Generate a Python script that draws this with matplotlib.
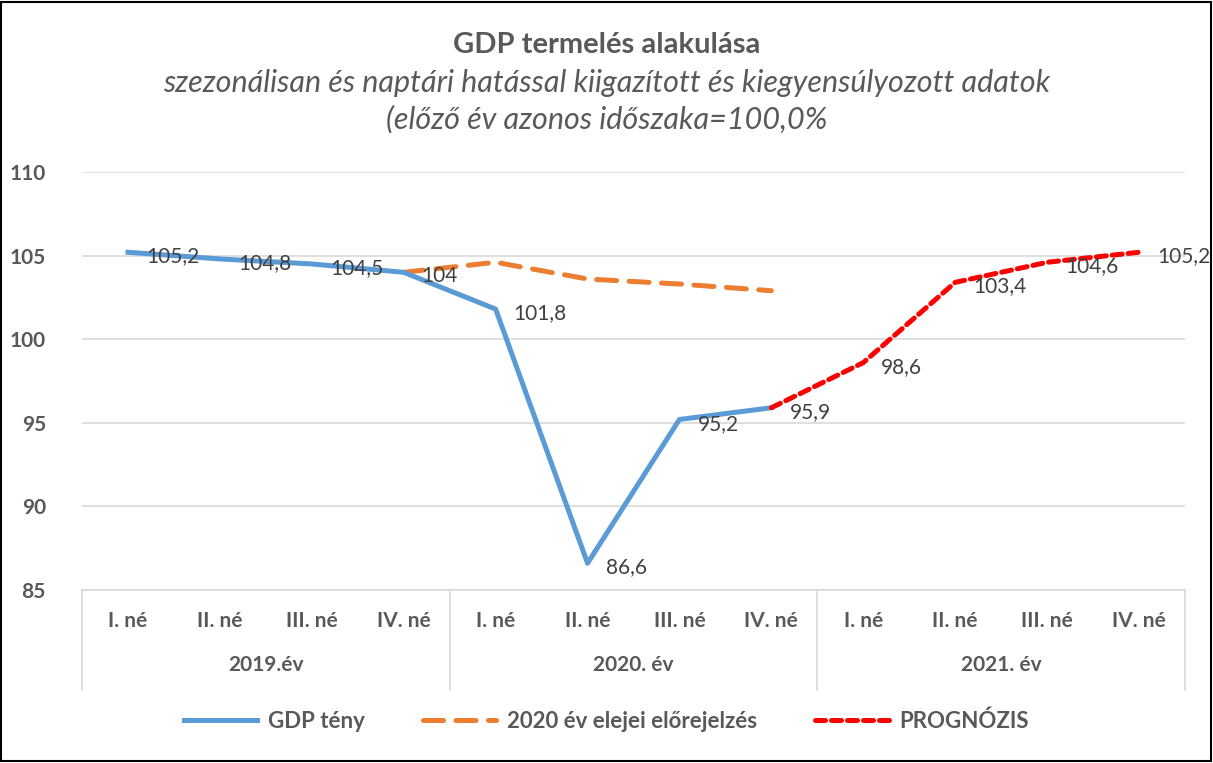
import matplotlib.pyplot as plt
import numpy as np

plt.rcParams['font.family'] = ['Lato', 'DejaVu Sans']

# adatok
quarters = ["I. né", "II. né", "III. né", "IV. né"] * 3
years = ["2019.év", "2020. év", "2021. év"]
gdp_teny = [105.2, 104.8, 104.5, 104.0, 101.8, 86.6, 95.2, 95.9]
elorejelzes = [104.0, 104.6, 103.6, 103.3, 102.9]   # 2019 IV. né - 2020 IV. né
prognozis = [95.9, 98.6, 103.4, 104.6, 105.2]       # 2020 IV. né - 2021 IV. né

gray = "#595959"
x = np.arange(len(quarters))

fig = plt.figure(figsize=(12.13, 7.63), dpi=100)
ax = fig.add_axes([82 / 1213, 173 / 763, 1103 / 1213, 418 / 763])

ax.plot(x[:len(gdp_teny)], gdp_teny, color="#5b9bd5", lw=3.6,
        solid_joinstyle="round", label="GDP tény", zorder=3)
ax.plot(x[3:3 + len(elorejelzes)], elorejelzes, color="#ed7d31", lw=3.6,
        dashes=(4, 2.5), dash_capstyle="round", label="2020 év elejei előrejelzés", zorder=2)
ax.plot(x[7:7 + len(prognozis)], prognozis, color="#ff0000", lw=3.6,
        dashes=(2, 1.2), dash_capstyle="round", label="PROGNÓZIS", zorder=4)

# adatcimkek
def fmt(v):
    s = ("%.1f" % v).replace(".", ",")
    return s[:-2] if s.endswith(",0") else s

for i, v in enumerate(gdp_teny):
    ax.annotate(fmt(v), (x[i], v), xytext=(13, -3), textcoords="offset points",
                ha="left", va="center", fontsize=15, color="#404040", zorder=5)
for i, v in enumerate(prognozis[1:]):
    ax.annotate(fmt(v), (x[8 + i], v), xytext=(13, -3), textcoords="offset points",
                ha="left", va="center", fontsize=15, color="#404040", zorder=5)

ax.set_xlim(-0.5, 11.5)
ax.set_ylim(85, 110)
ax.set_yticks([85, 90, 95, 100, 105, 110])
ax.tick_params(axis="y", length=0, labelsize=15, labelcolor=gray, pad=26)
for t in ax.get_yticklabels():
    t.set_fontweight("bold")
ax.set_xticks([])
ax.grid(axis="y", color="#d9d9d9", lw=1.2)
ax.set_axisbelow(True)
for s in ax.spines.values():
    s.set_visible(False)

# ketszintu kategoriatengely
tr = ax.get_xaxis_transform()
ax.plot([-0.5, 11.5], [0, 0], color="#d9d9d9", lw=1.2, transform=tr, clip_on=False)
for b in [-0.5, 3.5, 7.5, 11.5]:
    ax.plot([b, b], [0, -0.24], color="#d9d9d9", lw=1.2, transform=tr, clip_on=False)
for i, q in enumerate(quarters):
    ax.text(x[i], -0.075, q, transform=tr, ha="center", va="center",
            fontsize=15, fontweight="bold", color=gray)
for j, y in enumerate(years):
    ax.text(4 * j + 1.5, -0.18, y, transform=tr, ha="center", va="center",
            fontsize=15, fontweight="bold", color=gray)

fig.text(0.5, 1 - 45 / 763, "GDP termelés alakulása", ha="center", va="center",
         fontsize=21, fontweight="bold", color=gray)
fig.text(0.5, 1 - 83 / 763, "szezonálisan és naptári hatással kiigazított és kiegyensúlyozott adatok",
         ha="center", va="center", fontsize=22, style="italic", color=gray)
fig.text(0.5, 1 - 119 / 763, "(előző év azonos időszaka=100,0%", ha="center", va="center",
         fontsize=22, style="italic", color=gray)

leg = fig.legend(loc="center", bbox_to_anchor=(0.5, 1 - 721 / 763), ncol=3, frameon=False,
                 fontsize=16, handlelength=3.3, handletextpad=0.5, columnspacing=2.6)
for t in leg.get_texts():
    t.set_fontweight("bold")
    t.set_color(gray)

fig.patches.append(plt.Rectangle((0.001, 0.002), 0.997, 0.996, transform=fig.transFigure,
                                 fill=False, edgecolor="black", lw=1.5))

fig.savefig("out.png", dpi=100)
